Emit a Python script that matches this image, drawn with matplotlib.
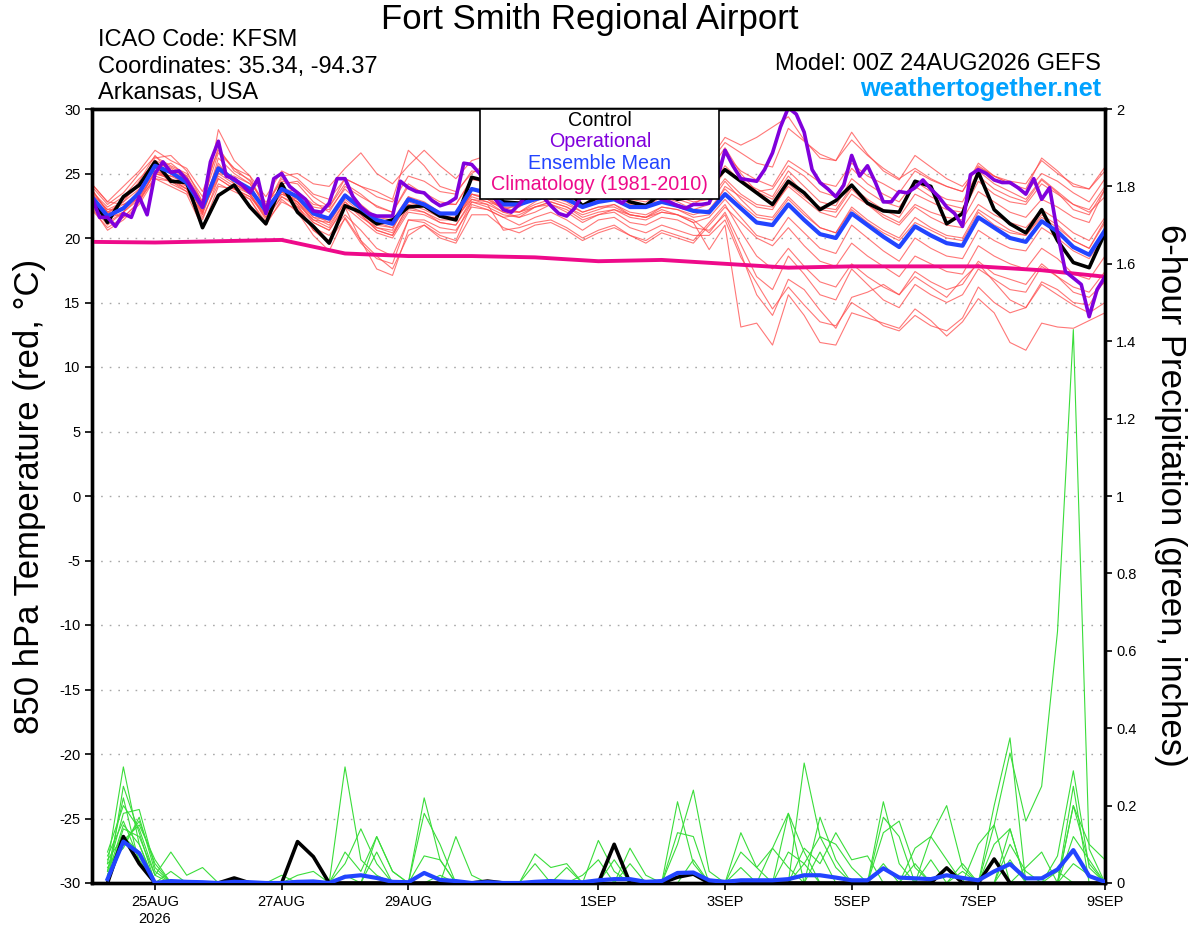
import numpy as np
import matplotlib
matplotlib.use("Agg")
import matplotlib.pyplot as plt
from matplotlib.patches import Rectangle

plt.rcParams['font.family'] = ['Liberation Sans', 'DejaVu Sans']
plt.rcParams['axes.unicode_minus'] = False

# ---------------- DATA ----------------
# time in days since 24AUG2026 00Z
n6 = 65            # 6-hourly points 24AUG 00Z .. 9SEP 00Z
n3 = 129           # 3-hourly points (operational)
tick_days = [1, 3, 5, 8, 10, 12, 14, 16]
tick_labels = ["25AUG\n2026", "27AUG", "29AUG", "1SEP", "3SEP", "5SEP", "7SEP", "9SEP"]

control_t = [23.2, 21.2, 23.2, 24.1, 25.9, 24.4, 24.3, 20.8, 23.3, 24.1, 22.4, 21.1, 24.2,
             22.0, 20.9, 19.6, 22.5, 22.0, 21.1, 21.4, 22.4, 22.5, 21.7, 21.4, 24.7, 24.4,
             22.8, 22.7, 23.5, 24.5, 23.8, 22.5, 23.2, 23.5, 22.8, 22.5, 23.5, 23.0, 23.2,
             24.0, 25.3, 24.4, 23.5, 22.6, 24.4, 23.5, 22.2, 22.9, 24.1, 22.7, 22.1, 22.0,
             24.4, 24.0, 21.1, 21.9, 25.1, 22.2, 21.1, 20.4, 22.2, 19.8, 18.1, 17.7, 20.4]

mean_t = [23.2, 21.7, 22.3, 23.5, 25.6, 25.1, 24.3, 22.4, 25.4, 24.5, 23.8, 22.1, 23.8,
          23.2, 21.9, 21.5, 23.3, 22.3, 21.4, 21.1, 23.0, 22.6, 21.9, 21.9, 23.8, 23.5,
          22.6, 22.6, 23.0, 23.3, 23.0, 22.4, 22.8, 23.0, 22.4, 22.4, 22.8, 22.5, 22.1,
          22.0, 23.4, 22.3, 21.2, 21.0, 22.6, 21.4, 20.3, 20.0, 21.9, 21.0, 20.1, 19.3,
          20.9, 20.2, 19.6, 19.4, 21.6, 20.8, 20.0, 19.7, 21.3, 20.5, 19.3, 18.7, 20.6]

oper_t = [23.2, 21.6, 21.6, 20.9, 21.9, 21.6, 23.2, 21.8, 25.0, 25.9, 25.1, 25.2, 24.5,
          23.5, 22.4, 25.9, 27.5, 24.8, 24.6, 24.1, 23.5, 24.6, 21.9, 24.6, 25.0, 24.0,
          23.5, 23.0, 22.1, 22.0, 22.7, 24.6, 24.6, 23.2, 22.4, 21.9, 21.7, 21.7, 21.7,
          24.4, 23.9, 23.6, 23.5, 22.9, 22.5, 22.7, 23.1, 25.8, 25.7, 25.0, 24.0, 23.0,
          22.2, 22.0, 22.6, 23.4, 23.8, 23.2, 22.5, 21.9, 21.7, 22.3, 23.4, 24.0, 24.3,
          23.8, 23.1, 22.7, 23.3, 24.2, 24.0, 23.4, 23.0, 22.8, 22.5, 22.3, 22.6, 22.6,
          22.7, 24.5, 26.8, 25.6, 24.6, 24.5, 24.4, 25.3, 26.6, 28.6, 30.1, 29.6, 28.2,
          25.3, 24.3, 23.8, 23.2, 24.1, 26.4, 24.8, 25.6, 24.3, 22.8, 22.8, 23.6, 23.5,
          23.9, 24.5, 23.8, 23.2, 22.4, 21.9, 20.9, 24.9, 25.3, 25.0, 24.5, 24.3, 24.3,
          23.9, 23.4, 24.6, 23.0, 23.9, 20.4, 17.4, 16.9, 16.4, 13.9, 16.0, 17.0]

clim_days = [0, 1, 2, 3, 4, 5, 6, 7, 8, 9, 10, 11, 12, 13, 14, 15, 16]
clim_t = [19.7, 19.65, 19.75, 19.85, 18.8, 18.6, 18.6, 18.5, 18.2, 18.3, 18.0, 17.7,
          17.8, 17.8, 17.8, 17.5, 17.0]

member_t01 = [24.0, 22.6, 23.5, 25.0, 26.3, 25.6, 25.0, 23.2, 27.0, 25.2, 24.5, 22.6, 24.4,
              24.2, 22.8, 22.0, 24.0, 23.2, 22.5, 22.0, 24.0, 23.5, 22.8, 22.6, 24.5, 24.5,
              23.8, 23.5, 24.2, 24.8, 24.0, 23.2, 24.0, 24.5, 23.5, 23.8, 24.8, 24.2, 23.8,
              24.5, 26.5, 25.2, 24.5, 24.0, 26.0, 25.2, 24.3, 24.0, 25.8, 24.8, 24.2, 23.5,
              25.2, 24.5, 24.0, 23.6, 25.8, 24.8, 24.2, 23.5, 25.0, 24.4, 23.5, 22.8, 24.6]
member_t02 = [22.5, 21.0, 22.0, 23.8, 26.0, 25.5, 24.8, 22.0, 26.2, 25.0, 24.2, 21.8, 24.2,
              24.4, 23.2, 22.4, 24.6, 24.0, 23.6, 23.0, 26.8, 25.6, 24.0, 23.6, 25.0, 25.8,
              23.2, 23.6, 24.5, 25.2, 24.5, 23.5, 24.6, 25.5, 24.8, 25.0, 26.2, 25.8, 25.0,
              25.8, 27.4, 26.6, 25.8, 25.5, 28.5, 27.5, 26.5, 26.0, 28.2, 26.5, 25.2, 24.5,
              26.4, 25.5, 24.6, 24.0, 25.5, 24.8, 24.2, 23.8, 26.2, 25.2, 24.0, 23.8, 25.5]
member_t03 = [23.8, 22.0, 22.8, 24.4, 26.4, 25.0, 24.0, 22.6, 25.8, 24.2, 23.5, 22.5, 23.6,
              22.8, 21.4, 20.8, 22.8, 21.6, 20.8, 20.6, 23.2, 22.8, 22.0, 21.8, 23.4, 23.0,
              22.4, 22.0, 22.8, 23.5, 23.8, 23.0, 23.2, 23.8, 23.0, 22.8, 23.5, 23.6, 23.0,
              23.8, 25.6, 24.4, 23.8, 23.2, 25.2, 24.0, 22.8, 22.5, 24.6, 23.6, 22.8, 22.4,
              24.0, 23.2, 22.6, 22.3, 24.8, 23.8, 23.2, 22.8, 24.5, 23.5, 22.2, 21.8, 23.8]
member_t04 = [23.0, 21.5, 22.0, 23.0, 25.2, 24.8, 24.6, 21.8, 28.4, 26.0, 24.8, 22.0, 24.0,
              22.6, 20.6, 19.8, 21.5, 19.6, 18.4, 18.0, 21.4, 21.2, 20.4, 20.4, 22.8, 22.6,
              22.0, 21.6, 22.4, 22.6, 22.2, 21.4, 21.8, 22.2, 21.8, 21.6, 22.4, 22.2, 21.6,
              21.8, 24.0, 23.2, 22.4, 22.2, 24.2, 23.2, 22.4, 22.2, 24.0, 23.0, 22.2, 21.6,
              23.4, 22.8, 22.2, 22.0, 24.4, 23.4, 22.8, 22.6, 24.2, 23.4, 22.6, 22.0, 23.2]
member_t05 = [23.5, 22.2, 22.8, 23.8, 25.4, 25.8, 24.8, 22.8, 25.0, 24.8, 24.2, 22.8, 23.8,
              23.6, 22.4, 22.2, 23.8, 22.6, 21.6, 21.4, 23.2, 22.5, 21.8, 21.5, 23.8, 23.2,
              22.2, 22.6, 23.0, 23.2, 22.8, 22.0, 22.4, 22.6, 21.8, 21.6, 22.2, 21.8, 21.2,
              21.6, 23.0, 21.6, 20.2, 19.8, 21.6, 20.4, 19.2, 18.8, 21.0, 20.0, 19.0, 18.2,
              20.0, 19.2, 18.6, 18.4, 20.6, 19.8, 19.2, 19.0, 20.8, 20.0, 19.0, 18.4, 20.2]
member_t06 = [22.8, 21.2, 22.0, 23.2, 25.0, 24.6, 24.0, 22.2, 24.8, 24.0, 23.4, 21.6, 23.2,
              22.6, 21.4, 21.2, 23.0, 22.0, 20.8, 20.4, 22.4, 22.0, 21.4, 21.4, 23.2, 22.8,
              22.0, 22.0, 22.6, 23.0, 22.6, 22.0, 22.4, 22.4, 21.8, 21.6, 22.0, 21.8, 21.2,
              19.1, 21.0, 13.1, 13.4, 11.7, 15.6, 14.0, 11.9, 11.7, 14.2, 13.8, 13.4, 13.0,
              14.5, 13.6, 12.4, 13.5, 15.3, 14.2, 11.9, 11.3, 13.4, 13.1, 13.0, 13.6, 14.2]
member_t07 = [24.2, 22.8, 22.6, 23.0, 24.6, 24.4, 23.8, 21.6, 24.2, 23.6, 23.0, 21.2, 22.8,
              22.2, 20.8, 20.2, 21.8, 20.6, 19.2, 18.6, 21.4, 21.4, 20.8, 20.6, 22.4, 22.2,
              21.6, 21.0, 21.6, 22.0, 21.4, 20.6, 21.4, 21.6, 20.8, 20.4, 21.0, 20.6, 20.2,
              20.2, 21.4, 18.5, 16.5, 14.5, 16.2, 14.8, 13.5, 13.2, 15.0, 14.2, 13.2, 12.8,
              14.0, 13.2, 12.8, 13.8, 16.2, 15.0, 14.2, 14.6, 16.4, 15.6, 14.8, 14.2, 15.0]
member_t08 = [22.4, 20.6, 21.4, 22.6, 24.6, 24.0, 23.4, 20.8, 24.0, 23.8, 23.0, 21.0, 23.0,
              22.0, 20.2, 19.0, 21.6, 19.8, 18.6, 17.6, 20.2, 21.0, 20.0, 19.6, 21.8, 21.8,
              20.8, 20.4, 21.0, 21.2, 20.6, 19.8, 20.4, 20.8, 20.2, 19.8, 20.6, 20.2, 19.8,
              21.2, 22.6, 20.5, 18.6, 17.6, 19.2, 17.8, 16.6, 16.2, 18.0, 17.0, 16.2, 15.6,
              17.4, 16.6, 16.0, 16.4, 18.2, 17.2, 16.8, 16.4, 18.0, 17.0, 15.8, 15.4, 16.6]
member_t09 = [23.2, 22.0, 22.6, 23.4, 25.6, 24.2, 23.6, 22.0, 25.2, 24.6, 23.6, 22.2, 23.4,
              23.0, 21.6, 21.0, 22.8, 21.8, 20.6, 20.2, 22.6, 22.2, 21.6, 21.6, 23.0, 22.6,
              20.6, 20.8, 21.2, 21.4, 20.8, 20.0, 20.6, 21.0, 20.2, 19.6, 20.4, 20.0, 19.6,
              21.0, 22.4, 21.2, 20.0, 19.4, 20.8, 19.4, 18.2, 17.8, 19.6, 18.6, 17.8, 17.0,
              18.6, 18.0, 17.4, 17.2, 19.4, 18.6, 18.0, 17.6, 19.2, 18.4, 17.2, 16.8, 18.6]
member_t10 = [23.6, 22.4, 23.2, 24.6, 25.8, 25.4, 24.5, 22.6, 25.6, 24.6, 23.8, 22.4, 24.6,
              23.6, 22.6, 22.4, 24.2, 23.4, 22.4, 22.0, 24.2, 23.4, 22.6, 22.6, 24.6, 24.2,
              23.2, 23.0, 23.6, 24.0, 23.6, 23.0, 23.4, 23.6, 23.0, 23.2, 23.6, 23.2, 22.8,
              23.0, 24.6, 23.4, 22.6, 22.4, 24.0, 23.0, 22.0, 21.6, 23.4, 22.6, 21.8, 21.2,
              22.6, 22.0, 21.6, 21.4, 23.6, 22.8, 22.0, 21.6, 23.0, 22.4, 21.6, 21.2, 23.8]
member_t11 = [22.6, 21.8, 23.0, 24.0, 26.2, 26.4, 25.2, 22.8, 26.6, 25.4, 24.4, 22.4, 24.8,
              25.0, 24.2, 24.0, 25.4, 26.6, 25.0, 24.2, 25.6, 26.8, 25.6, 24.6, 26.0, 26.4,
              25.4, 26.0, 26.4, 26.2, 25.4, 24.6, 25.6, 26.6, 25.6, 25.2, 26.8, 26.4, 25.2,
              25.2, 27.0, 25.0, 23.6, 23.0, 24.8, 23.4, 22.2, 22.0, 23.8, 22.6, 21.6, 21.0,
              22.4, 21.6, 21.0, 20.8, 22.6, 21.8, 21.2, 20.8, 22.2, 21.4, 20.4, 19.8, 21.6]
member_t12 = [22.2, 20.8, 21.6, 22.8, 24.8, 24.4, 23.6, 21.4, 24.6, 23.8, 23.2, 21.6, 23.6,
              22.4, 21.2, 20.6, 22.6, 21.8, 20.6, 20.2, 22.2, 22.0, 21.2, 21.0, 23.0, 22.8,
              22.4, 22.4, 23.2, 23.6, 23.2, 22.4, 23.0, 23.4, 22.8, 22.6, 23.4, 23.0, 22.6,
              23.4, 25.2, 24.6, 23.6, 23.8, 25.6, 24.8, 23.6, 23.2, 25.4, 24.2, 23.4, 22.8,
              24.4, 23.6, 23.0, 22.8, 25.2, 24.2, 23.6, 23.0, 24.6, 23.6, 22.6, 22.2, 24.0]
member_t13 = [23.4, 22.2, 22.2, 23.2, 25.0, 24.8, 24.2, 22.0, 25.0, 24.2, 23.4, 21.8, 23.4,
              22.8, 21.6, 21.4, 23.4, 22.4, 21.2, 20.8, 22.8, 22.4, 21.6, 21.6, 23.4, 23.0,
              22.2, 22.0, 22.4, 22.8, 22.4, 21.6, 22.0, 22.2, 21.6, 21.4, 22.0, 21.8, 21.4,
              20.4, 22.0, 19.5, 17.0, 16.0, 18.6, 17.2, 15.6, 15.2, 17.6, 16.4, 15.2, 14.6,
              16.4, 15.6, 15.0, 15.6, 17.6, 16.8, 16.0, 15.8, 17.8, 17.0, 16.2, 15.8, 17.4]
member_t14 = [24.2, 22.8, 24.0, 25.2, 26.8, 26.0, 25.4, 23.6, 26.8, 25.4, 24.8, 23.2, 25.2,
              24.6, 23.4, 23.0, 24.6, 24.0, 23.2, 22.8, 24.8, 24.4, 23.6, 23.4, 25.2, 25.0,
              24.4, 24.4, 25.2, 25.8, 25.0, 24.0, 24.6, 25.2, 24.2, 24.0, 24.8, 24.6, 24.4,
              26.0, 27.8, 27.2, 27.8, 28.6, 29.4, 27.6, 26.2, 26.0, 27.6, 26.4, 25.4, 24.6,
              25.4, 24.6, 24.0, 23.6, 25.6, 24.8, 24.4, 24.2, 26.0, 25.0, 24.2, 23.8, 25.2]
member_t15 = [23.8, 22.0, 21.6, 22.8, 25.2, 24.6, 23.8, 21.8, 25.2, 24.4, 23.4, 21.4, 23.2,
              22.4, 20.6, 19.6, 22.4, 19.8, 17.6, 17.1, 20.6, 21.0, 20.2, 19.8, 22.6, 22.2,
              21.6, 21.8, 22.4, 22.8, 22.4, 21.8, 22.2, 22.6, 22.0, 21.8, 22.4, 22.2, 21.8,
              22.2, 23.8, 22.6, 21.6, 21.4, 23.0, 21.8, 20.8, 20.4, 22.2, 21.2, 20.4, 19.8,
              21.2, 20.6, 20.0, 19.8, 22.0, 21.0, 20.4, 20.2, 21.6, 20.8, 19.8, 19.2, 21.4]
member_t16 = [23.0, 21.4, 22.4, 23.6, 25.4, 25.2, 24.4, 22.4, 25.4, 24.6, 23.6, 22.0, 23.8,
              23.0, 21.8, 21.2, 23.2, 22.2, 21.0, 20.8, 22.6, 22.4, 21.6, 21.4, 23.4, 23.2,
              22.6, 22.8, 23.4, 23.8, 23.2, 22.6, 23.0, 23.4, 22.6, 22.4, 23.2, 22.8, 22.2,
              22.6, 24.4, 23.0, 21.8, 21.6, 23.2, 22.0, 20.8, 20.4, 22.4, 21.4, 20.6, 20.0,
              21.6, 20.8, 20.2, 20.0, 22.2, 21.4, 20.6, 20.2, 21.8, 21.0, 19.8, 19.2, 21.2]
member_t17 = [23.0, 21.8, 22.4, 23.6, 25.0, 24.6, 23.8, 22.2, 24.6, 23.8, 23.2, 21.8, 23.6,
              22.8, 21.2, 20.6, 22.4, 21.4, 20.4, 20.0, 22.0, 21.8, 21.2, 21.0, 22.8, 22.4,
              21.8, 21.6, 22.0, 22.6, 22.0, 21.2, 21.8, 22.0, 21.2, 21.0, 21.6, 21.4, 20.8,
              20.6, 21.8, 18.8, 15.6, 14.0, 16.8, 16.0, 14.4, 13.0, 15.4, 15.8, 16.4, 15.6,
              17.0, 16.2, 15.4, 16.8, 18.0, 16.6, 15.2, 14.6, 16.6, 16.0, 15.0, 14.8, 16.8]

# 6-hour precipitation (inches), valid 24AUG 06Z .. 9SEP 00Z (64 values)
control_p = [0.00, 0.12, 0.05, 0.00, 0.00, 0.00, 0.00, 0.00, 0.013, 0.00, 0.00, 0.00, 0.107, 0.068, 0.00, 0.00,
             0.00, 0.00, 0.00, 0.00, 0.00, 0.00, 0.00, 0.00, 0.005, 0.00, 0.00, 0.00, 0.00, 0.00, 0.00, 0.00,
             0.10, 0.00, 0.00, 0.00, 0.015, 0.023, 0.00, 0.00, 0.00, 0.00, 0.00, 0.00, 0.00, 0.00, 0.00, 0.00,
             0.00, 0.00, 0.00, 0.00, 0.00, 0.039, 0.00, 0.00, 0.062, 0.00, 0.00, 0.00, 0.00, 0.00, 0.00, 0.00]
mean_p = [0.01, 0.107, 0.077, 0.00, 0.005, 0.003, 0.002, 0.00, 0.003, 0.002, 0.00, 0.00, 0.003, 0.004, 0.00, 0.016,
          0.02, 0.013, 0.003, 0.002, 0.026, 0.008, 0.005, 0.00, 0.002, 0.00, 0.00, 0.003, 0.005, 0.003, 0.002, 0.007,
          0.01, 0.01, 0.003, 0.005, 0.026, 0.027, 0.007, 0.003, 0.007, 0.007, 0.007, 0.01, 0.02, 0.02, 0.014, 0.007,
          0.007, 0.038, 0.014, 0.012, 0.01, 0.02, 0.013, 0.007, 0.03, 0.049, 0.012, 0.012, 0.035, 0.085, 0.018, 0.003]

member_p01 = [0.05, 0.30, 0.10, 0.00, 0.00, 0.00, 0.00, 0.00, 0.00, 0.00, 0.00, 0.00, 0.00, 0.00, 0.00, 0.30,
              0.06, 0.02, 0.00, 0.00, 0.00, 0.00, 0.00, 0.00, 0.00, 0.00, 0.00, 0.00, 0.00, 0.00, 0.00, 0.00,
              0.00, 0.00, 0.00, 0.00, 0.21, 0.05, 0.00, 0.00, 0.00, 0.00, 0.00, 0.00, 0.31, 0.12, 0.04, 0.00,
              0.00, 0.00, 0.00, 0.00, 0.00, 0.00, 0.00, 0.00, 0.20, 0.375, 0.00, 0.00, 0.00, 0.05, 0.02, 0.00]
member_p02 = [0.03, 0.18, 0.19, 0.04, 0.00, 0.00, 0.00, 0.00, 0.00, 0.00, 0.00, 0.00, 0.00, 0.00, 0.00, 0.00,
              0.00, 0.00, 0.00, 0.00, 0.22, 0.06, 0.00, 0.00, 0.00, 0.00, 0.00, 0.00, 0.00, 0.00, 0.00, 0.00,
              0.00, 0.00, 0.00, 0.00, 0.00, 0.00, 0.00, 0.00, 0.00, 0.00, 0.00, 0.00, 0.00, 0.00, 0.00, 0.00,
              0.00, 0.00, 0.00, 0.00, 0.00, 0.00, 0.00, 0.10, 0.15, 0.336, 0.16, 0.25, 0.65, 1.43, 0.088, 0.00]
member_p03 = [0.08, 0.20, 0.14, 0.02, 0.08, 0.02, 0.04, 0.00, 0.00, 0.00, 0.00, 0.00, 0.00, 0.00, 0.00, 0.00,
              0.00, 0.12, 0.03, 0.00, 0.00, 0.00, 0.12, 0.02, 0.00, 0.00, 0.00, 0.00, 0.00, 0.00, 0.00, 0.11,
              0.03, 0.00, 0.00, 0.00, 0.10, 0.24, 0.03, 0.00, 0.00, 0.00, 0.00, 0.18, 0.08, 0.00, 0.00, 0.00,
              0.00, 0.21, 0.05, 0.00, 0.00, 0.00, 0.00, 0.00, 0.00, 0.10, 0.03, 0.00, 0.00, 0.20, 0.10, 0.06]
member_p04 = [0.02, 0.15, 0.10, 0.00, 0.00, 0.00, 0.00, 0.00, 0.01, 0.00, 0.00, 0.00, 0.02, 0.03, 0.00, 0.05,
              0.14, 0.05, 0.00, 0.00, 0.18, 0.10, 0.00, 0.00, 0.00, 0.00, 0.00, 0.00, 0.00, 0.00, 0.00, 0.00,
              0.00, 0.09, 0.02, 0.00, 0.00, 0.00, 0.00, 0.00, 0.13, 0.04, 0.00, 0.00, 0.00, 0.17, 0.06, 0.00,
              0.00, 0.13, 0.16, 0.04, 0.00, 0.00, 0.00, 0.00, 0.15, 0.00, 0.00, 0.00, 0.07, 0.29, 0.04, 0.00]
member_p05 = [0.06, 0.12, 0.08, 0.00, 0.03, 0.00, 0.00, 0.00, 0.00, 0.00, 0.00, 0.02, 0.00, 0.00, 0.00, 0.08,
              0.03, 0.12, 0.03, 0.00, 0.07, 0.06, 0.00, 0.00, 0.00, 0.00, 0.00, 0.00, 0.00, 0.00, 0.02, 0.06,
              0.00, 0.00, 0.00, 0.00, 0.00, 0.00, 0.00, 0.00, 0.00, 0.00, 0.00, 0.00, 0.09, 0.05, 0.13, 0.06,
              0.07, 0.00, 0.00, 0.09, 0.12, 0.06, 0.00, 0.00, 0.00, 0.00, 0.00, 0.00, 0.00, 0.20, 0.05, 0.00]
member_p06 = [0.04, 0.10, 0.16, 0.05, 0.00, 0.00, 0.00, 0.00, 0.00, 0.00, 0.00, 0.00, 0.00, 0.00, 0.00, 0.00,
              0.00, 0.00, 0.00, 0.00, 0.00, 0.00, 0.00, 0.00, 0.00, 0.00, 0.00, 0.075, 0.04, 0.05, 0.00, 0.00,
              0.06, 0.00, 0.00, 0.00, 0.13, 0.12, 0.00, 0.00, 0.08, 0.04, 0.09, 0.18, 0.00, 0.00, 0.00, 0.00,
              0.00, 0.17, 0.12, 0.00, 0.12, 0.20, 0.04, 0.00, 0.00, 0.14, 0.00, 0.00, 0.00, 0.00, 0.00, 0.00]
member_p07 = [0.00, 0.25, 0.13, 0.00, 0.00, 0.00, 0.00, 0.00, 0.00, 0.00, 0.00, 0.00, 0.00, 0.00, 0.00, 0.00,
              0.00, 0.00, 0.00, 0.00, 0.00, 0.00, 0.00, 0.00, 0.00, 0.00, 0.00, 0.00, 0.00, 0.04, 0.00, 0.00,
              0.00, 0.00, 0.00, 0.00, 0.00, 0.00, 0.00, 0.00, 0.00, 0.00, 0.09, 0.04, 0.00, 0.00, 0.00, 0.00,
              0.00, 0.00, 0.00, 0.00, 0.00, 0.00, 0.05, 0.00, 0.00, 0.00, 0.04, 0.08, 0.00, 0.12, 0.06, 0.00]
member_p08 = [0.03, 0.22, 0.05, 0.00, 0.00, 0.00, 0.00, 0.00, 0.00, 0.00, 0.00, 0.00, 0.00, 0.00, 0.00, 0.00,
              0.00, 0.00, 0.00, 0.00, 0.00, 0.00, 0.00, 0.00, 0.00, 0.00, 0.00, 0.00, 0.00, 0.00, 0.00, 0.00,
              0.00, 0.05, 0.00, 0.00, 0.00, 0.00, 0.00, 0.00, 0.04, 0.00, 0.00, 0.08, 0.05, 0.12, 0.10, 0.04,
              0.00, 0.00, 0.00, 0.00, 0.06, 0.00, 0.00, 0.00, 0.10, 0.14, 0.00, 0.00, 0.00, 0.25, 0.00, 0.00]
member_p09 = [0.07, 0.16, 0.06, 0.00, 0.00, 0.00, 0.00, 0.00, 0.00, 0.00, 0.00, 0.00, 0.00, 0.00, 0.00, 0.02,
              0.00, 0.08, 0.00, 0.00, 0.00, 0.00, 0.00, 0.00, 0.00, 0.00, 0.00, 0.00, 0.00, 0.00, 0.00, 0.00,
              0.00, 0.00, 0.00, 0.00, 0.00, 0.06, 0.00, 0.00, 0.00, 0.00, 0.00, 0.00, 0.05, 0.00, 0.00, 0.00,
              0.00, 0.05, 0.00, 0.00, 0.00, 0.00, 0.00, 0.00, 0.00, 0.00, 0.00, 0.00, 0.00, 0.00, 0.00, 0.00]
member_p10 = [0.01, 0.14, 0.12, 0.02, 0.00, 0.00, 0.00, 0.00, 0.00, 0.00, 0.00, 0.00, 0.00, 0.00, 0.00, 0.00,
              0.00, 0.00, 0.00, 0.00, 0.00, 0.02, 0.00, 0.00, 0.00, 0.00, 0.00, 0.00, 0.00, 0.00, 0.00, 0.00,
              0.00, 0.00, 0.00, 0.00, 0.00, 0.00, 0.00, 0.00, 0.00, 0.00, 0.00, 0.00, 0.00, 0.08, 0.00, 0.00,
              0.00, 0.00, 0.00, 0.05, 0.00, 0.00, 0.03, 0.00, 0.00, 0.00, 0.00, 0.00, 0.00, 0.00, 0.00, 0.00]
member_p11 = [0.05, 0.09, 0.17, 0.03, 0.00, 0.00, 0.00, 0.00, 0.00, 0.00, 0.00, 0.00, 0.00, 0.00, 0.00, 0.00,
              0.00, 0.00, 0.00, 0.00, 0.00, 0.00, 0.00, 0.00, 0.00, 0.00, 0.00, 0.05, 0.00, 0.00, 0.00, 0.00,
              0.00, 0.00, 0.00, 0.00, 0.00, 0.00, 0.00, 0.00, 0.00, 0.00, 0.00, 0.00, 0.00, 0.00, 0.00, 0.00,
              0.00, 0.00, 0.00, 0.00, 0.00, 0.00, 0.00, 0.00, 0.00, 0.00, 0.00, 0.00, 0.00, 0.00, 0.00, 0.00]
member_p12 = [0.02, 0.11, 0.15, 0.06, 0.00, 0.00, 0.00, 0.00, 0.00, 0.00, 0.00, 0.00, 0.00, 0.00, 0.00, 0.00,
              0.00, 0.00, 0.00, 0.00, 0.00, 0.00, 0.00, 0.00, 0.00, 0.00, 0.00, 0.00, 0.00, 0.00, 0.00, 0.00,
              0.00, 0.00, 0.00, 0.00, 0.00, 0.00, 0.00, 0.00, 0.00, 0.00, 0.00, 0.00, 0.00, 0.00, 0.00, 0.00,
              0.00, 0.00, 0.00, 0.00, 0.00, 0.00, 0.00, 0.00, 0.00, 0.06, 0.00, 0.00, 0.03, 0.00, 0.00, 0.00]

temp_members = [member_t01, member_t02, member_t03, member_t04, member_t05, member_t06,
                member_t07, member_t08, member_t09, member_t10, member_t11, member_t12,
                member_t13, member_t14, member_t15, member_t16, member_t17]
precip_members = [member_p01, member_p02, member_p03, member_p04, member_p05, member_p06,
                  member_p07, member_p08, member_p09, member_p10, member_p11, member_p12]

for m in temp_members + [control_t, mean_t]:
    assert len(m) == n6, len(m)
for m in precip_members + [control_p, mean_p]:
    assert len(m) == n6 - 1, len(m)
assert len(oper_t) == n3, len(oper_t)

# ---------------- PLOT ----------------
t6 = np.arange(n6) * 0.25
t3 = np.arange(n3) * 0.125

fig = plt.figure(figsize=(12, 9.27), dpi=100)
ax = fig.add_axes([91.7 / 1200, 44 / 927, 1013.3 / 1200, 774 / 927])
ax2 = ax.twinx()

RED = '#FF4A4A'
GREEN = '#3ADD3A'
PURPLE = '#8000DC'
BLUE = '#2244FF'
MAGENTA = '#EE0A8A'

for m in temp_members:
    ax.plot(t6, m, color=RED, lw=0.8, alpha=0.75, zorder=2)
ax.plot(clim_days, clim_t, color=MAGENTA, lw=2.8, zorder=3, solid_capstyle='butt')
ax.plot(t6, control_t, color='black', lw=2.6, zorder=4)
ax.plot(t6, mean_t, color=BLUE, lw=3.0, zorder=5)
ax.plot(t3, oper_t, color=PURPLE, lw=2.6, zorder=6)

for v in range(-25, 30, 5):
    ax.axhline(v, color='#A8A8A8', lw=1.0, ls=(0, (1.2, 5)), zorder=1)

for m in precip_members:
    ax2.plot(t6[1:], m, color=GREEN, lw=0.8, zorder=2)
ax2.plot(t6[1:], control_p, color='black', lw=2.6, zorder=4)
ax2.plot(t6[1:], mean_p, color=BLUE, lw=3.0, zorder=5)

ax.set_xlim(0, 16)
ax.set_ylim(-30, 30)
ax2.set_ylim(0, 2)
ax.set_yticks(range(-30, 31, 5))
ax2.set_yticks(np.round(np.arange(0, 2.01, 0.2), 1))
ax2.set_yticklabels(['0', '0.2', '0.4', '0.6', '0.8', '1', '1.2', '1.4', '1.6', '1.8', '2'])
ax.set_xticks(tick_days)
ax.set_xticklabels(tick_labels)

for a in (ax, ax2):
    a.tick_params(direction='out', length=5, width=1.2, labelsize=10.5, pad=3)
    for s in a.spines.values():
        s.set_linewidth(2.4)
ax.tick_params(axis='x', pad=4)

# legend box
ax2.add_patch(Rectangle((0.383, 0.884), 0.236, 0.116, transform=ax2.transAxes,
                        facecolor='white', edgecolor='black', lw=1.2, zorder=20))
leg_items = [("Control", 'black'), ("Operational", PURPLE),
             ("Ensemble Mean", BLUE), ("Climatology (1981-2010)", MAGENTA)]
for k, (txt, col) in enumerate(leg_items):
    ax2.text(0.5015, 0.985 - k * 0.0275, txt, color=col, fontsize=14.2, ha='center',
             va='center', transform=ax2.transAxes, zorder=21)

# header texts
fig.text(590 / 1200, 1 - 19 / 927, "Fort Smith Regional Airport", fontsize=25,
         ha='center', va='center')
for k, txt in enumerate(["ICAO Code: KFSM", "Coordinates: 35.34, -94.37", "Arkansas, USA"]):
    fig.text(98 / 1200, 1 - (40 + k * 26.5) / 927, txt, fontsize=17, ha='left', va='center')
fig.text(1101 / 1200, 1 - 64 / 927, "Model: 00Z 24AUG2026 GEFS", fontsize=17,
         ha='right', va='center')
fig.text(1101 / 1200, 1 - 89 / 927, "weathertogether.net", fontsize=18.3,
         fontweight='bold', color='#00A2FF', ha='right', va='center')

fig.text(30 / 1200, 1 - 496 / 927, "850 hPa Temperature (red, \u00b0C)",
         fontsize=25, rotation=90, ha='center', va='center')
fig.text(1170 / 1200, 1 - 495 / 927, "6-hour Precipitation (green, inches)",
         fontsize=25, rotation=-90, ha='center', va='center')

fig.savefig("out.png", dpi=100)
